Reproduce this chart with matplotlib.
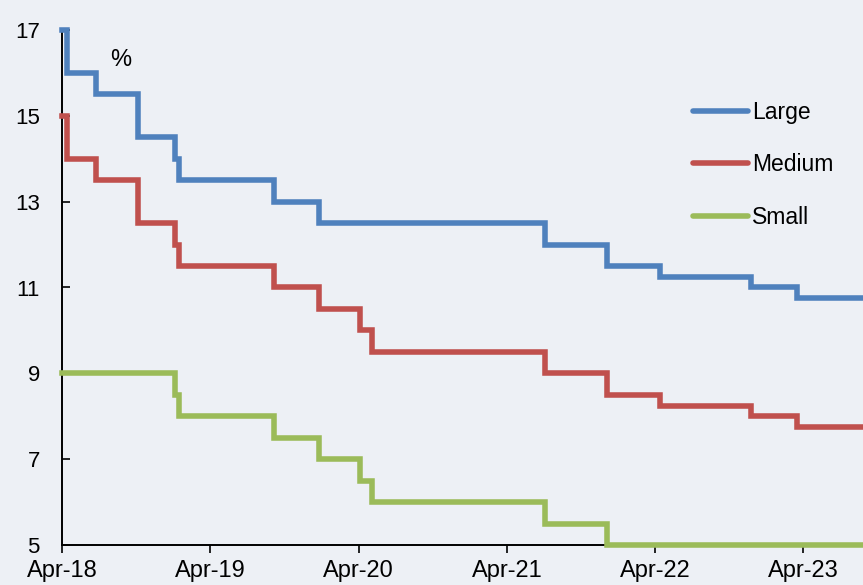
import numpy as np
import pandas as pd
import matplotlib
matplotlib.use("Agg")
import matplotlib.pyplot as plt

# ----------------------------------------------------------------------
# Datos: fechas de cambio y nivel (%) de cada serie
# ----------------------------------------------------------------------
large_dates = ["2018-04-12", "2018-04-25", "2018-07-05", "2018-10-15", "2019-01-15",
               "2019-01-25", "2019-09-16", "2020-01-06", "2021-07-15", "2021-12-15",
               "2022-04-25", "2022-12-05", "2023-03-27", "2023-09-10"]
large_vals = [17, 16, 15.5, 14.5, 14, 13.5, 13, 12.5, 12, 11.5, 11.25, 11, 10.75, 10.75]

medium_dates = ["2018-04-12", "2018-04-25", "2018-07-05", "2018-10-15", "2019-01-15",
                "2019-01-25", "2019-09-16", "2020-01-06", "2020-04-15", "2020-05-15",
                "2021-07-15", "2021-12-15", "2022-04-25", "2022-12-05", "2023-03-27",
                "2023-09-10"]
medium_vals = [15, 14, 13.5, 12.5, 12, 11.5, 11, 10.5, 10, 9.5, 9, 8.5, 8.25, 8, 7.75, 7.75]

small_dates = ["2018-04-12", "2019-01-15", "2019-01-25", "2019-09-16", "2020-01-06",
               "2020-04-15", "2020-05-15", "2021-07-15", "2021-12-15", "2023-09-10"]
small_vals = [9, 8.5, 8, 7.5, 7, 6.5, 6, 5.5, 5, 5]

series_names = ["Large", "Medium", "Small"]
colors = ["#4F81BD", "#C0504D", "#9BBB59"]

tick_dates = ["2018-04-12", "2019-04-12", "2020-04-12", "2021-04-12", "2022-04-12",
              "2023-04-12"]
tick_labels = ["Apr-18", "Apr-19", "Apr-20", "Apr-21", "Apr-22", "Apr-23"]
y_ticks = [5, 7, 9, 11, 13, 15, 17]

# ----------------------------------------------------------------------
# Figura
# ----------------------------------------------------------------------
plt.rcParams["font.family"] = ["Liberation Sans", "DejaVu Sans"]
bg = "#EDF0F5"

fig = plt.figure(figsize=(8.63, 5.85), dpi=100, facecolor=bg)
ax = fig.add_axes([62 / 863, 40 / 585, 801 / 863, 515 / 585])
ax.set_facecolor(bg)

for dates, vals, name, col in zip([large_dates, medium_dates, small_dates],
                                  [large_vals, medium_vals, small_vals],
                                  series_names, colors):
    ax.step(pd.to_datetime(dates), vals, where="post", color=col, lw=4.0,
            label=name, solid_joinstyle="miter", clip_on=False, zorder=3)

ax.set_xlim(pd.Timestamp("2018-04-12"), pd.Timestamp("2023-09-06"))
ax.set_ylim(5, 17)
ax.set_yticks(y_ticks)
ax.set_xticks(pd.to_datetime(tick_dates))
ax.set_xticklabels(tick_labels)

ax.tick_params(axis="y", direction="in", length=6, width=1.2, pad=16, labelsize=16)
ax.tick_params(axis="x", direction="out", length=6, width=1.2, pad=4.5, labelsize=17)
for s in ["top", "right"]:
    ax.spines[s].set_visible(False)
for s in ["left", "bottom"]:
    ax.spines[s].set_linewidth(1.4)
    ax.spines[s].set_color("black")

ax.text((121 - 62) / 801, (545 - 60) / 515, "%", transform=ax.transAxes,
        ha="center", va="center", fontsize=17)

leg = ax.legend(loc="upper left", bbox_to_anchor=((693 - 62) / 801, (545 - 101) / 515),
                frameon=False, fontsize=16.5, handlelength=2.4, handletextpad=0.18,
                labelspacing=1.28, borderpad=0, borderaxespad=0)
for line in leg.get_lines():
    line.set_solid_capstyle("round")

fig.savefig("out.png", dpi=100, facecolor=bg)
